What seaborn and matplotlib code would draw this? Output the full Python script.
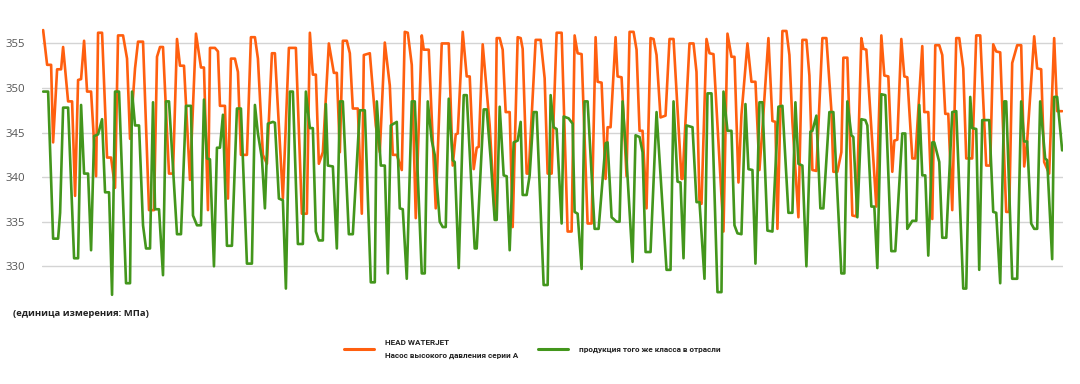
import matplotlib as mpl
from matplotlib import pyplot as plt
from matplotlib.lines import Line2D
import seaborn as sns
import pandas as pd

# pressure readings (MPa) against sample time
head_pts = [(0,356.5),(4,352.6),(8,352.6),(10,343.9),(14,352.1),(18,352.1),(20,354.6),(25,348.5),(29,348.5),(32,337.9),
    (35,350.9),(38,351.0),(41,355.3),(44,349.6),(48,349.6),(53,340.1),(55,356.2),(59,356.2),(64,342.2),(68,342.2),
    (72,338.8),(75,355.9),(80,355.9),(84,353.3),(87,344.3),(92,352.2),(95,355.2),(100,355.2),(106,336.3),(111,336.3),
    (114,353.5),(117,354.6),(120,354.6),(126,340.4),(130,340.4),(134,355.5),(137,352.5),(141,352.5),(147,339.7),(153,356.1),
    (158,352.3),(161,352.3),(165,336.3),(167,354.5),(172,354.5),(175,354.1),(177,348.0),(182,348.0),(185,337.6),(188,353.3),
    (192,353.3),(195,351.8),(198,342.5),(204,342.5),(208,355.7),(212,355.7),(215,353.3),(220,342.5),(224,341.5),(229,353.9),
    (232,353.9),(240,337.6),(246,354.5),(253,354.5),(259,335.9),(264,335.9),(267,356.2),(270,351.5),(273,351.5),(276,341.5),
    (280,342.8),(286,355.0),(291,351.7),(294,351.7),(297,342.8),(300,355.3),(304,355.3),(307,353.9),(310,347.7),(315,347.7),
    (319,335.9),(321,353.7),(327,353.9),(333,345.8),(337,342.8),(342,355.1),(347,350.3),(350,342.5),(354,342.5),(359,340.8),
    (362,356.3),(365,356.2),(369,352.6),(373,335.4),(379,355.9),(381,354.3),(386,354.3),(393,336.5),(399,355.0),(406,355.0),
    (410,341.3),(413,344.8),(415,344.9),(420,356.3),(424,351.3),(427,351.3),(431,340.9),(434,343.3),(436,343.4),(440,354.9),
    (447,345.8),(452,335.9),(454,355.6),(457,355.6),(460,354.3),(463,347.3),(467,347.3),(470,334.4),(475,355.7),(478,355.6),
    (480,354.4),(484,340.4),(486,340.4),(493,355.4),(498,355.4),(502,351.1),(505,340.4),(509,340.4),(514,356.2),(519,356.2),
    (525,333.9),(529,333.9),(532,355.9),(535,353.9),(539,353.8),(545,334.8),(549,334.8),(553,355.7),(555,350.7),(559,350.6),
    (563,339.8),(565,345.6),(568,345.6),(573,355.7),(575,351.3),(579,351.2),(584,340.1),(587,356.3),(591,356.3),(594,354.3),
    (597,345.2),(600,345.2),(604,336.5),(608,355.6),(611,355.5),(614,353.7),(618,346.7),(623,346.9),(627,355.5),(631,355.5),
    (639,339.8),(640,339.8),(647,355.0),(651,355.0),(654,351.8),(657,337.2),(659,337.0),(664,355.5),(667,353.9),(671,353.8),
    (681,333.9),(685,356.1),(689,353.5),(692,353.5),(696,339.4),(699,347.0),(705,355.0),(709,350.7),(713,350.7),(717,340.8),
    (720,345.5),(726,355.6),(730,346.3),(733,346.2),(735,334.2),(740,356.4),(744,356.4),(747,353.7),(750,346.2),(756,335.5),
    (760,355.4),(764,355.4),(767,351.4),(770,340.8),(774,340.7),(780,355.6),(784,355.6),(789,347.5),(791,340.6),(795,340.6),
    (799,342.8),(801,353.4),(805,353.4),(810,335.7),(814,335.6),(819,355.6),(821,354.4),(824,354.3),(834,336.7),(839,355.9),
    (842,351.4),(846,351.3),(850,340.6),(852,344.1),(855,344.2),(859,355.5),(862,351.3),(865,351.2),(870,342.1),(873,342.1),
    (880,354.7),(882,347.3),(886,347.3),(890,335.3),(893,354.8),(897,354.8),(900,353.7),(903,347.1),(906,347.1),(910,336.3),
    (914,355.6),(917,355.6),(921,352.2),(924,342.1),(930,342.1),(934,355.9),(938,355.9),(944,341.3),(948,341.3),(951,354.9),
    (954,354.1),(958,354.0),(964,336.1),(967,336.1),(970,352.8),(975,354.8),(979,354.8),(982,341.2),(985,344.1),(992,355.8),
    (995,352.2),(999,352.1),(1002,341.7),(1007,340.4),(1012,355.6),(1015,347.4),(1020,347.4)]

industry_pts = [(0,349.6),(5,349.6),(10,333.1),(15,333.1),(17,336.0),(20,347.8),(25,347.8),(31,330.9),(35,330.9),(38,348.1),
    (41,340.4),(45,340.4),(48,331.8),(51,344.6),(55,344.8),(59,346.5),(62,338.3),(66,338.3),(69,326.8),(72,349.6),
    (76,349.6),(83,328.1),(87,328.1),(89,349.6),(92,345.8),(96,345.8),(100,334.6),(103,332.0),(107,332.0),(110,348.4),
    (112,336.4),(116,336.4),(120,329.0),(123,348.5),(126,348.5),(134,333.6),(138,333.6),(143,348.0),(148,348.0),(150,335.7),
    (154,334.6),(158,334.6),(161,348.7),(164,342.1),(167,342.0),(171,330.0),(174,343.3),(177,343.3),(180,347.0),(184,332.3),
    (189,332.3),(194,347.7),(198,347.7),(204,330.3),(209,330.3),(212,348.1),(215,344.9),(219,342.1),(222,336.5),(225,346.0),
    (230,346.2),(232,346.1),(236,337.6),(240,337.4),(243,327.5),(247,349.6),(250,349.6),(255,332.5),(260,332.5),(263,349.6),
    (267,345.5),(270,345.5),(273,333.9),(276,332.9),(280,332.9),(283,348.2),(285,341.3),(290,341.2),(294,332.0),(297,348.5),
    (300,348.5),(306,333.6),(310,333.6),(317,347.5),(322,347.5),(328,328.2),(332,328.2),(334,348.5),(338,341.3),(342,341.3),
    (345,329.2),(348,345.8),(354,346.2),(357,336.5),(360,336.4),(364,328.6),(369,348.5),(372,348.5),(379,329.2),(382,329.2),
    (385,348.5),(389,344.1),(392,342.5),(397,335.0),(400,334.4),(403,334.4),(406,348.8),(410,341.9),(412,341.7),(416,329.8),
    (421,349.2),(424,349.2),(432,332.0),(434,332.0),(441,347.6),(444,347.6),(448,342.0),(452,335.2),(454,335.2),(457,347.9),
    (461,340.2),(464,340.1),(467,331.8),(471,343.9),(475,344.1),(478,346.2),(480,338.0),(484,338.0),(487,340.2),(491,347.3),
    (494,347.3),(501,327.9),(505,327.9),(508,349.2),(511,345.6),(514,345.4),(519,334.8),(521,346.8),(526,346.6),(530,346.0),
    (532,336.1),(535,335.9),(539,329.7),(542,348.5),(545,348.5),(552,334.2),(556,334.2),(563,343.8),(565,343.9),(569,335.5),
    (574,335.0),(577,335.0),(580,348.5),(584,341.9),(590,330.5),(593,344.7),(597,344.5),(600,342.8),(603,331.6),(608,331.6),
    (614,347.3),(624,329.6),(628,329.6),(631,348.5),(635,339.5),(638,339.4),(641,330.9),(644,345.8),(650,345.6),(654,337.2),
    (657,337.2),(662,328.6),(665,349.4),(669,349.4),(675,327.1),(679,327.1),(681,349.6),(685,345.2),(689,345.2),(692,334.6),
    (695,333.7),(699,333.6),(703,348.2),(706,340.9),(710,340.8),(713,330.3),(717,348.4),(720,348.4),(725,334.0),(730,333.9),
    (736,347.9),(740,348.0),(746,336.0),(750,336.0),(753,348.4),(756,341.5),(760,341.3),(764,330.0),(768,345.1),(770,345.2),
    (774,346.9),(778,336.5),(781,336.5),(787,347.3),(791,347.3),(794,340.6),(799,329.2),(802,329.2),(805,348.5),(809,344.7),
    (811,344.5),(815,335.5),(819,346.5),(823,346.4),(825,345.8),(829,336.7),(832,336.7),(835,329.8),(839,349.3),(843,349.2),
    (849,331.7),(853,331.7),(860,344.9),(863,344.9),(865,334.2),(870,335.1),(874,335.1),(877,348.1),(880,340.2),(883,340.2),
    (886,331.2),(890,343.9),(892,343.9),(897,341.7),(900,333.2),(904,333.2),(910,347.3),(914,347.4),(921,327.5),(924,327.5),
    (928,349.0),(930,345.5),(934,345.4),(937,329.6),(940,346.4),(947,346.4),(951,336.1),(954,336.0),(958,328.1),(962,348.5),
    (964,348.5),(970,328.6),(975,328.6),(979,348.5),(982,344.0),(985,344.0),(989,334.8),(992,334.2),(995,334.2),(998,348.5),
    (1003,342.1),(1005,341.9),(1010,330.8),(1012,349.0),(1015,349.0),(1020,343.0)]

label_head = "HEAD WATERJET\nНасос высокого давления серии А"
label_ind = "продукция того же класса в отрасли"
yticks = [330, 335, 340, 345, 350, 355]
unit_note = "(единица измерения: МПа)"

rows = [(t, v, label_head) for t, v in head_pts] + [(t, v, label_ind) for t, v in industry_pts]
df = pd.DataFrame(rows, columns=["t", "value", "series"])

sns.set_style("white")
plt.rcParams['font.family'] = ['Open Sans', 'DejaVu Sans']

colors = {label_head: "#ff5f0f", label_ind: "#43961c"}

fig = plt.figure(figsize=(10.8, 3.84), dpi=100)
ax = fig.add_axes([0.039, 0.2253, 0.9454, 0.708])
sns.lineplot(data=df, x="t", y="value", hue="series", hue_order=[label_head, label_ind],
             palette=colors, estimator=None, sort=False, linewidth=1.9, legend=False, ax=ax)

ax.set_xlim(-1, 1021)
ax.set_ylim(326.5, 357)
ax.set_yticks(yticks)
ax.set_xticks([])
ax.set_xlabel("")
ax.set_ylabel("")
ax.yaxis.grid(True, color="#d4d4d4", linewidth=1.0)
ax.set_axisbelow(True)
for s in ax.spines.values():
    s.set_visible(False)
ax.tick_params(axis="y", length=0, pad=12, labelsize=8.2, labelcolor="#555555")

fig.text(13/1080, 1-313/384, unit_note, fontsize=6.8, fontweight="bold", color="#222222", va="center")

handles = [Line2D([], [], color=colors[label_head], linewidth=2.2),
           Line2D([], [], color=colors[label_ind], linewidth=2.2)]
leg = fig.legend(handles, [label_head, label_ind], loc="center left", bbox_to_anchor=(337/1080, 1-349/384),
                 ncol=2, frameon=False, handlelength=3.6, handletextpad=1.4, columnspacing=2.4,
                 prop={"family": ["Roboto", "DejaVu Sans"], "weight": "bold", "size": 5.9})
for txt in leg.get_texts():
    txt.set_linespacing(1.9)
    txt.set_color("#222222")

fig.savefig("out.png", dpi=100)
